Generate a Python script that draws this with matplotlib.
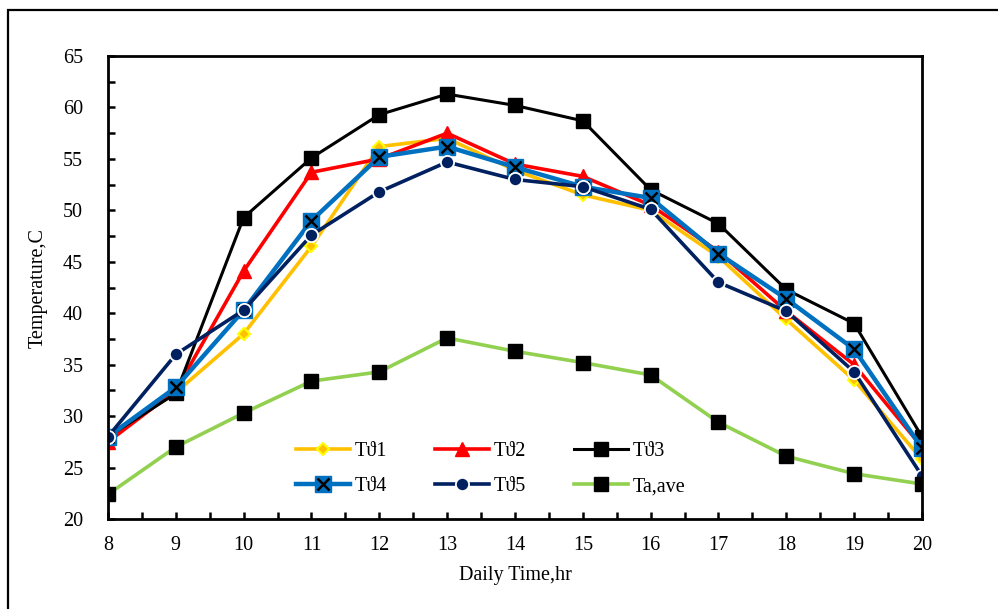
import numpy as np
import matplotlib
matplotlib.use("Agg")
import matplotlib.pyplot as plt
import matplotlib.patches as patches
from matplotlib.ticker import MultipleLocator

plt.rcParams['font.family'] = ['Liberation Serif', 'DejaVu Serif']
plt.rcParams['mathtext.fontset'] = 'stix'

hours = [8, 9, 10, 11, 12, 13, 14, 15, 16, 17, 18, 19, 20]
t91 = [28.0, 32.3, 38.0, 46.5, 56.2, 57.0, 53.9, 51.5, 50.0, 45.5, 39.4, 33.5, 25.8]
t92 = [27.5, 32.5, 44.1, 53.7, 55.0, 57.5, 54.5, 53.3, 50.5, 46.0, 40.2, 35.0, 27.0]
t93 = [28.0, 32.2, 49.3, 55.1, 59.3, 61.3, 60.2, 58.7, 52.0, 48.7, 42.3, 39.0, 28.0]
t94 = [28.0, 32.8, 40.3, 49.0, 55.2, 56.2, 54.2, 52.3, 51.2, 45.8, 41.4, 36.5, 26.9]
t95 = [28.0, 36.0, 40.3, 47.6, 51.8, 54.7, 53.0, 52.3, 50.1, 43.0, 40.2, 34.3, 24.2]
ta_ave = [22.4, 27.0, 30.3, 33.4, 34.3, 37.6, 36.3, 35.2, 34.0, 29.4, 26.1, 24.4, 23.4]
labels = ["T\u03d11", "T\u03d12", "T\u03d13", "T\u03d14", "T\u03d15", "Ta,ave"]

fig = plt.figure(figsize=(9.98, 6.09), dpi=100)
ax = fig.add_axes([0.1082, 0.1478, 0.8156, 0.7602])

# outer frame (cut on right and bottom like the source)
fig.patches.append(patches.Rectangle((0.008, -0.05), 1.1, 0.9836 + 0.05,
                                     transform=fig.transFigure, fill=False,
                                     edgecolor='black', linewidth=1.6))

l1, = ax.plot(hours, t91, color='#FFC000', lw=2.6, marker='D', ms=6.5,
              mfc='#FFC000', mec='#FFFF00', mew=1.5)
l2, = ax.plot(hours, t92, color='#FF0000', lw=2.6, marker='^', ms=10,
              mfc='#FF0000', mec='#FF0000')
l3, = ax.plot(hours, t93, color='black', lw=2.2, marker='s', ms=10.5,
              mfc='black', mec='black')
l4, = ax.plot(hours, t94, color='#0070C0', lw=3.2, marker='s', ms=11,
              mfc='#0070C0', mec='#0070C0')
l4x, = ax.plot(hours, t94, ls='none', marker='x', ms=9, mec='black', mew=1.8)
l5, = ax.plot(hours, t95, color='#002060', lw=2.6, marker='o', ms=9.5,
              mfc='#002060', mec='white', mew=1.3)
l6, = ax.plot(hours, ta_ave, color='#92D050', lw=2.6, marker='s', ms=10.5,
              mfc='black', mec='black')

ax.set_xlim(8, 20)
ax.set_ylim(20, 65)
ax.xaxis.set_major_locator(MultipleLocator(1))
ax.xaxis.set_minor_locator(MultipleLocator(0.5))
ax.yaxis.set_major_locator(MultipleLocator(5))
ax.yaxis.set_minor_locator(MultipleLocator(2.5))
ax.tick_params(which='both', direction='in', length=5, width=1.8,
               labelsize=14.5)
ax.tick_params(axis='x', pad=12)
ax.tick_params(axis='y', pad=18)
for s in ax.spines.values():
    s.set_linewidth(2.0)

ax.set_xlabel("Daily Time,hr", fontsize=14.5, labelpad=8)
ax.set_ylabel("Temperature,C", fontsize=14.5, labelpad=11)

handles = [l1, (l4, l4x), l2, l5, l3, l6]
names = [labels[0], labels[3], labels[1], labels[4], labels[2], labels[5]]
ax.legend(handles, names, ncol=3, loc='center', bbox_to_anchor=(0.47, 0.108),
          frameon=False, fontsize=14.5, handlelength=2.7, handletextpad=0.2,
          columnspacing=2.4, labelspacing=0.8)

fig.savefig("out.png", dpi=100)
